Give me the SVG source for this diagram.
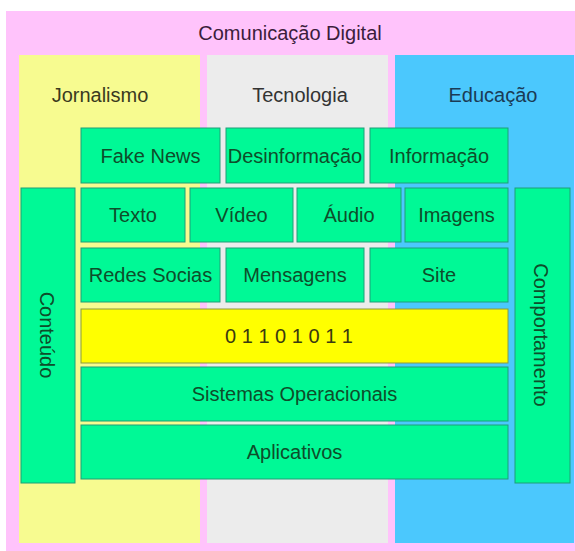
<svg xmlns="http://www.w3.org/2000/svg" width="575" height="551" viewBox="0 0 575 551">
<style>
text{font-family:"Liberation Sans",Arial,sans-serif;font-size:20px;text-anchor:middle;dominant-baseline:central}
.n{fill:#00f996;stroke:#1e9e78;stroke-width:1}
.nt{fill:#0e4d2a}
.bin{fill:#ffff00;stroke:#8a9a40;stroke-width:1}
</style>
<rect width="575" height="551" fill="#ffffff"/>
<g id="comunicacao">
<rect x="6" y="11" width="569" height="540" fill="#ffc3fb"/>
<text x="290" y="33" fill="#3b1d3b">Comunicação Digital</text>
</g>
<g id="jornalismo">
<rect x="19" y="55" width="181" height="488" fill="#f7fb90"/>
<text x="100" y="95" fill="#3a3a1e">Jornalismo</text>
</g>
<g id="tecnologia">
<rect x="207" y="55" width="181" height="488" fill="#ececec"/>
<text x="300" y="95" fill="#333333">Tecnologia</text>
</g>
<g id="educacao">
<rect x="395" y="55" width="179" height="488" fill="#4bc8fd"/>
<text x="493" y="95" fill="#1b3b55">Educação</text>
</g>
<g id="fake-news"><rect class="n" x="81" y="128" width="139" height="55"/><text class="nt" x="150.5" y="156">Fake News</text></g>
<g id="desinformacao"><rect class="n" x="226" y="128" width="138" height="55"/><text class="nt" x="295" y="156">Desinformação</text></g>
<g id="informacao"><rect class="n" x="370" y="128" width="138" height="55"/><text class="nt" x="439" y="156">Informação</text></g>
<g id="texto"><rect class="n" x="81" y="188" width="104" height="54"/><text class="nt" x="133" y="215">Texto</text></g>
<g id="video"><rect class="n" x="190" y="188" width="103" height="54"/><text class="nt" x="241.5" y="215">Vídeo</text></g>
<g id="audio"><rect class="n" x="297" y="188" width="104" height="54"/><text class="nt" x="349" y="215">Áudio</text></g>
<g id="imagens"><rect class="n" x="405" y="188" width="103" height="54"/><text class="nt" x="456.5" y="215">Imagens</text></g>
<g id="redes-socias"><rect class="n" x="81" y="248" width="139" height="54"/><text class="nt" x="150.5" y="275">Redes Socias</text></g>
<g id="mensagens"><rect class="n" x="226" y="248" width="138" height="54"/><text class="nt" x="295" y="275">Mensagens</text></g>
<g id="site"><rect class="n" x="370" y="248" width="138" height="54"/><text class="nt" x="439" y="275">Site</text></g>
<g id="binario"><rect class="bin" x="81" y="309" width="427" height="54"/><text x="289" y="336" fill="#3a3a10">0 1 1 0 1 0 1 1</text></g>
<g id="sistemas-operacionais"><rect class="n" x="81" y="367" width="427" height="54"/><text class="nt" x="294.5" y="394">Sistemas Operacionais</text></g>
<g id="aplicativos"><rect class="n" x="81" y="425" width="427" height="54"/><text class="nt" x="294.5" y="452">Aplicativos</text></g>
<g id="conteudo"><rect class="n" x="21" y="188" width="54" height="295"/><text class="nt" transform="translate(47,335) rotate(90)">Conteúdo</text></g>
<g id="comportamento"><rect class="n" x="515" y="188" width="55" height="295"/><text class="nt" transform="translate(541,335) rotate(90)">Comportamento</text></g>
<g id="connectors"></g>
</svg>
